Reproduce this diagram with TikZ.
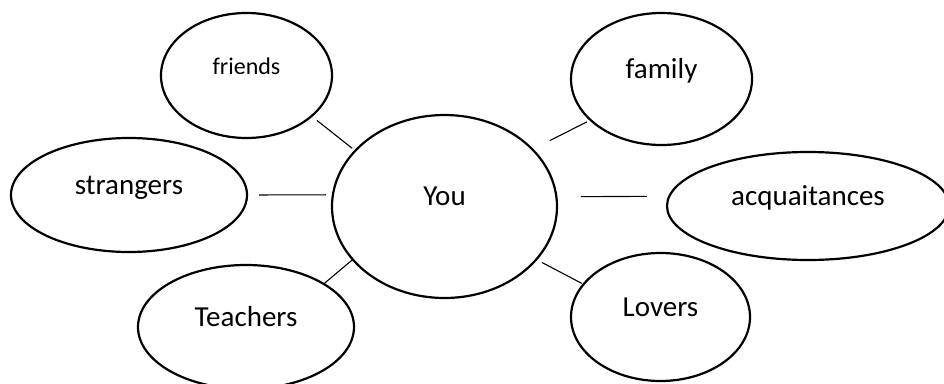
\documentclass[tikz,border=0pt]{standalone}
\usepackage{fontspec}
\setmainfont{Carlito}
\usetikzlibrary{shapes.geometric}

\begin{document}
\begin{tikzpicture}[
      x=1pt, y=-1pt, % one unit per pixel of the sketch, y downwards
      bubble/.style={draw, ellipse, line width=2.2pt, inner sep=0pt, outer sep=0pt,
        text height=20pt, text depth=22pt, font=\fontsize{29}{34}\selectfont},
      %text depth > text height lifts the word a little above the centre
      link/.style={line width=1.1pt}
    ]
    \useasboundingbox (0,0) rectangle (944,383);
    % the centre
    \node[bubble, minimum width=225pt, minimum height=183pt] (you) at (444.5,206.5) {You};
    % the circles round it
    \node[bubble, minimum width=171pt, minimum height=125pt,
      font=\fontsize{24}{28}\selectfont] (friends) at (246.5,75.5) {friends};
    \node[bubble, minimum width=181pt, minimum height=132pt] (family) at (661.5,79) {family};
    \node[bubble, minimum width=236pt, minimum height=114pt] (strangers) at (129,195) {strangers};
    \node[bubble, minimum width=282pt, minimum height=108pt] (acq) at (808,206) {acquaitances};
    \node[bubble, minimum width=216pt, minimum height=124pt] (teachers) at (246,327) {Teachers};
    \node[bubble, minimum width=179pt, minimum height=128pt] (lovers) at (660.5,317) {Lovers};
    % the links, with small gaps at the ends
    \draw[link, shorten <=7pt, shorten >=4pt] (friends.-32) -- (you.148);
    \draw[link, shorten <=4pt, shorten >=19.5pt] (family.210) -- (you.33);
    \draw[link, shorten <=12pt, shorten >=7pt] (strangers.0.5) -- (you.174);
    \draw[link, shorten <=24.5pt, shorten >=22.5pt] (you.5) -- (acq.176);
    \draw[link, shorten <=1pt] (teachers.29) -- (you.210);
    \draw[link, shorten <=6.5pt, shorten >=2pt] (you.-30) -- (lovers.157);
\end{tikzpicture}
\end{document}
